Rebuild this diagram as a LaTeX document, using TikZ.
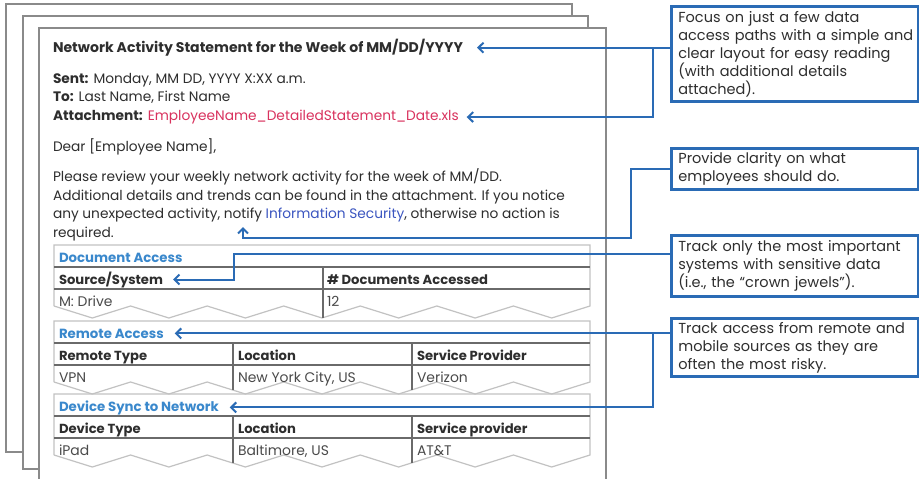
\documentclass[tikz,border=0pt]{standalone}
\usepackage{fontspec}
\setmainfont{Poppins}
\usetikzlibrary{arrows.meta}
\definecolor{cblue}{HTML}{2A6BB5}
\definecolor{hblue}{HTML}{3A88CC}
\definecolor{lblue}{HTML}{3B55C0}
\definecolor{ared}{HTML}{D9325E}
\definecolor{txt}{HTML}{2E2E2E}
\definecolor{dtxt}{HTML}{4A4A4A}
\definecolor{pgray}{HTML}{8A8A8A}
\definecolor{tgl}{HTML}{C2C2C2}
\definecolor{tgd}{HTML}{6A6A6A}
\newlength\fitlen
\newcommand\fitsize[3]{\settowidth\fitlen{\fontsize{10pt}{12pt}\selectfont #3}\pgfmathsetmacro#1{10*#2*0.75/\fitlen}}
\newcommand\tblframe[1]{%
  \draw[tout] (54,{#1+61}) -- (54,#1) -- (590,#1) -- (590,{#1+61})
    \foreach \k in {0,...,6}{ -- ({590-76.5714*\k-38.2857},{#1+73}) -- ({590-76.5714*(\k+1)},{#1+61})};
  \draw[tin] (54,{#1+22}) -- (590,{#1+22});
  \draw[tin] (54,{#1+44}) -- (590,{#1+44});
}
\newcommand\cl[1]{\mbox{#1}}
\begin{document}
\fitsize\szTitle{410}{\bfseries Network Activity Statement for the Week of MM/DD/YYYY}%
\fitsize\szBody{512}{Additional details and trends can be found in the attachment. If you notice}%
\fitsize\szCall{230}{access paths with a simple and}%
\fitsize\szTh{123.5}{\bfseries Document Access}%
\fitsize\szTc{104}{\bfseries Source/System}%
\fitsize\szTd{91}{Baltimore, US}%
\begin{tikzpicture}[x=0.75pt,y=-0.75pt,
  page/.style={draw=pgray,line width=1.7pt,fill=white},
  tout/.style={draw=tgl,line width=0.9pt},
  tin/.style={draw=tgd,line width=0.8pt},
  tdiv/.style={draw=tgd,line width=0.8pt},
  txtnode/.style={anchor=base west,inner sep=0pt,outer sep=0pt},
  body/.style={txtnode,text=txt,font=\fontsize{\szBody pt}{14pt}\selectfont},
  ttl/.style={txtnode,text=txt,font=\fontsize{\szTitle pt}{14pt}\selectfont\bfseries},
  th/.style={txtnode,text=hblue,font=\fontsize{\szTh pt}{14pt}\selectfont\bfseries},
  tc/.style={txtnode,text=txt,font=\fontsize{\szTc pt}{14pt}\selectfont\bfseries},
  td/.style={txtnode,text=dtxt,font=\fontsize{\szTd pt}{14pt}\selectfont},
  callout/.style={draw=cblue,line width=2pt,fill=white,text=txt,anchor=north west,
    align=left,text width=174.75pt,inner xsep=5.25pt,inner ysep=0pt,minimum width=185.25pt,
    font=\fontsize{\szCall pt}{13.5pt}\selectfont},
  conn/.style={draw=cblue,line width=1.5pt,-{Straight Barb[length=3.8pt,width=7.5pt]}}]
\useasboundingbox (0,0) rectangle (919,478);
\fill[white] (0,0) rectangle (919,478);
% stacked pages
\draw[page] (6,4) rectangle (572,452);
\draw[page] (23,16) rectangle (588,469);
\draw[page] (39,28) rectangle (606,500);
% header text
\node[ttl] (title) at (53,52.5) {Network Activity Statement for the Week of MM/DD/YYYY};
\node[body] (sent) at (53,83) {\textbf{Sent:} Monday, MM DD, YYYY X:XX a.m.};
\node[body] (to) at (53,101.5) {\textbf{To:} Last Name, First Name};
\node[body] (attach) at (53,120.5) {\textbf{Attachment:} \textcolor{ared}{EmployeeName\_DetailedStatement\_Date.xls}};
\node[body] (dear) at (53,151) {Dear [Employee Name],};
\node[body] (p1) at (53,181.5) {Please review your weekly network activity for the week of MM/DD.};
\node[body] (p2) at (53,200) {Additional details and trends can be found in the attachment. If you notice};
\node[body] (p3) at (53,218.5) {any unexpected activity, notify \textcolor{lblue}{Information Security}, otherwise no action is};
\node[body] (p4) at (53,237.5) {required.};
% table 1
\tblframe{245}
\draw[tdiv] (323,267) -- (323,318);
\node[th] (docacc) at (59,262) {Document Access};
\node[tc] (srcsys) at (59,284) {Source/System};
\node[tc] (ndocs) at (327,284) {\# Documents Accessed};
\node[td] (mdrive) at (59,306) {M: Drive};
\node[td] (n12) at (327,306) {12};
% table 2
\tblframe{321}
\draw[tdiv] (233,343) -- (233,390);
\draw[tdiv] (412,343) -- (412,390);
\node[th] (remote) at (59,338) {Remote Access};
\node[tc] (rtype) at (59,360) {Remote Type};
\node[tc] (rloc) at (238,360) {Location};
\node[tc] (rsp) at (417,360) {Service Provider};
\node[td] (vpn) at (59,382) {VPN};
\node[td] (nyc) at (238,382) {New York City, US};
\node[td] (verizon) at (417,382) {Verizon};
% table 3
\tblframe{394}
\draw[tdiv] (233,416) -- (233,463);
\draw[tdiv] (412,416) -- (412,463);
\node[th] (device) at (59,411) {Device Sync to Network};
\node[tc] (dtype) at (59,433) {Device Type};
\node[tc] (dloc) at (238,433) {Location};
\node[tc] (dsp) at (417,433) {Service provider};
\node[td] (ipad) at (59,455) {iPad};
\node[td] (balt) at (238,455) {Baltimore, US};
\node[td] (att) at (417,455) {AT\&T};
% callouts
\node[callout,minimum height=71.25pt] (c1) at (670,5) {\cl{Focus on just a few data}\\\cl{access paths with a simple and}\\\cl{clear layout for easy reading}\\\cl{(with additional details}\\\cl{attached).}};
\node[callout,minimum height=30.75pt] (c2) at (670,147) {\cl{Provide clarity on what}\\\cl{employees should do.}};
\node[callout,minimum height=45.75pt] (c3) at (670,234) {\cl{Track only the most important}\\\cl{systems with sensitive data}\\\cl{(i.e., the “crown jewels”).}};
\node[callout,minimum height=43.5pt] (c4) at (670,317) {\cl{Track access from remote and}\\\cl{mobile sources as they are}\\\cl{often the most risky.}};
% connectors
\coordinate (j1x) at (653,0);
\coordinate (j2) at (631,238);
\coordinate (clar) at (243,227);
\coordinate (j3) at (234,254);
\draw[conn] (c1.west |- title.east) -- ([xshift=10.5pt]title.east);
\draw[conn] (j1x |- title.east) |- ([xshift=6pt]attach.east);
\draw[conn] (c2.west) -| (j2) -| (clar);
\draw[conn] (c3.west |- j3) -- (j3) |- ([xshift=7.5pt]srcsys.east);
\draw[conn] (c4.west |- remote.east) -- ([xshift=8.25pt]remote.east);
\draw[conn] (j1x |- remote.east) |- ([xshift=8.25pt]device.east);
\end{tikzpicture}
\end{document}
